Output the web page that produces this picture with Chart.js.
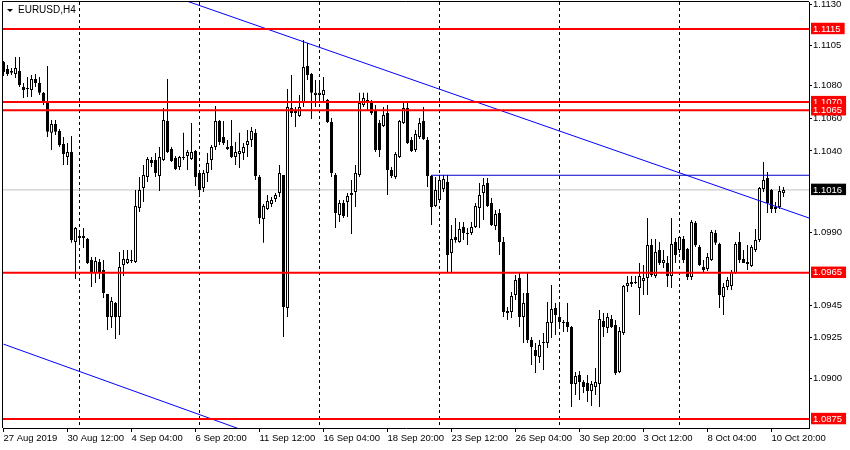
<!DOCTYPE html>
<html><head><meta charset="utf-8">
<script src="https://cdn.jsdelivr.net/npm/chart.js@4/dist/chart.umd.min.js"></script>
<style>html,body{margin:0;padding:0;background:#fff;}canvas{display:block;}</style>
</head><body>
<canvas id="c" width="850" height="450"></canvas>
<script>
const symbolTitle = 'EURUSD,H4';
const xTickLabels = ['27 Aug 2019','30 Aug 12:00','4 Sep 04:00','6 Sep 20:00','11 Sep 12:00','16 Sep 04:00','18 Sep 20:00','23 Sep 12:00','26 Sep 04:00','30 Sep 20:00','3 Oct 12:00','8 Oct 04:00','10 Oct 20:00'];
const xTickStep = 16;
const weekStartBars = [19, 49, 79, 109, 139, 169];

const open = [
1.10947,1.10904,1.10892,1.10873,1.10892,1.10793,1.10781,1.10775,1.10842,1.10818,
1.10757,1.10701,1.10511,1.10565,1.10523,1.10442,1.10362,1.10393,1.09840,1.09876,
1.09864,1.09858,1.09729,1.09649,1.09717,1.09667,1.09519,1.09378,1.09464,1.09378,
1.09698,1.09710,1.09723,1.09717,1.10049,1.10172,1.10239,1.10344,1.10344,1.10245,
1.10344,1.10584,1.10412,1.10356,1.10301,1.10362,1.10368,1.10350,1.10399,1.10264,
1.10172,1.10264,1.10344,1.10424,1.10584,1.10486,1.10424,1.10430,1.10362,1.10381,
1.10387,1.10436,1.10467,1.10511,1.10239,1.09981,1.10043,1.10073,1.10104,1.10141,
1.10251,1.09433,1.10664,1.10646,1.10615,1.10695,1.10922,1.10873,1.10744,1.10744,
1.10744,1.10713,1.10578,1.10251,1.10006,1.10080,1.10086,1.10128,1.10147,1.10251,
1.10682,1.10713,1.10701,1.10652,1.10572,1.10553,1.10633,1.10282,1.10239,1.10362,
1.10572,1.10664,1.10467,1.10405,1.10486,1.10584,1.10467,1.10245,1.10061,1.10098,
1.10165,1.10209,1.09772,1.09870,1.09840,1.09932,1.09895,1.09895,1.09932,1.10049,
1.10141,1.10202,1.10080,1.09938,1.10018,1.09840,1.09415,1.09409,1.09513,1.09618,
1.09378,1.09526,1.09236,1.09175,1.09132,1.09218,1.09218,1.09341,1.09433,1.09378,
1.09347,1.09347,1.09316,1.08966,1.09021,1.08978,1.08972,1.08923,1.08947,1.08966,
1.09353,1.09310,1.09366,1.09329,1.09040,1.09279,1.09569,1.09581,1.09593,1.09556,
1.09599,1.09618,1.09821,1.09630,1.09790,1.09710,1.09710,1.09630,1.09840,1.09790,
1.09858,1.09797,1.09624,1.09956,1.09809,1.09686,1.09673,1.09729,1.09895,1.09827,
1.09501,1.09562,1.09568,1.09649,1.09840,1.09735,1.09717,1.09692,1.09790,1.09852,
1.10165,1.10233,1.10159,1.10055,1.10055,1.10141
];
const high = [
1.10953,1.10928,1.10910,1.10978,1.10978,1.10818,1.10855,1.10867,1.10873,1.10855,
1.10763,1.10922,1.10590,1.10590,1.10535,1.10486,1.10449,1.10492,1.09932,1.09913,
1.09926,1.09864,1.09747,1.09747,1.09735,1.09729,1.09519,1.09501,1.09470,1.09778,
1.09790,1.09790,1.09790,1.10159,1.10239,1.10313,1.10362,1.10362,1.10387,1.10424,
1.10664,1.10842,1.10424,1.10368,1.10368,1.10511,1.10405,1.10572,1.10405,1.10282,
1.10282,1.10387,1.10436,1.10676,1.10590,1.10584,1.10467,1.10590,1.10455,1.10511,
1.10449,1.10529,1.10547,1.10535,1.10251,1.10073,1.10128,1.10116,1.10141,1.10313,
1.10251,1.10781,1.10867,1.10670,1.10744,1.11082,1.11064,1.10879,1.10836,1.10818,
1.10855,1.10719,1.10602,1.10264,1.10098,1.10098,1.10141,1.10221,1.10313,1.10757,
1.10757,1.10757,1.10713,1.10682,1.10590,1.10670,1.10682,1.10301,1.10393,1.10590,
1.10701,1.10701,1.10486,1.10529,1.10602,1.10670,1.10486,1.10251,1.10239,1.10251,
1.10251,1.10251,1.09944,1.09987,1.09963,1.09963,1.09926,1.09963,1.10080,1.10202,
1.10233,1.10233,1.10110,1.10036,1.10043,1.09870,1.09439,1.09532,1.09636,1.09649,
1.09526,1.09649,1.09255,1.09218,1.09236,1.09280,1.09470,1.09575,1.09464,1.09452,
1.09359,1.09464,1.09323,1.09040,1.09046,1.08990,1.09021,1.08984,1.09064,1.09421,
1.09402,1.09402,1.09390,1.09359,1.09316,1.09575,1.09630,1.09630,1.09630,1.09710,
1.09698,1.09987,1.09858,1.09858,1.09840,1.09790,1.09753,1.09987,1.09864,1.09876,
1.09876,1.09803,1.09975,1.09969,1.09821,1.09729,1.09772,1.09913,1.09913,1.09834,
1.09587,1.09624,1.09667,1.09840,1.09901,1.09790,1.09821,1.09821,1.09920,1.10178,
1.10332,1.10270,1.10165,1.10086,1.10184,1.10178
];
const low = [
1.10861,1.10861,1.10867,1.10849,1.10793,1.10726,1.10732,1.10732,1.10793,1.10744,
1.10682,1.10486,1.10405,1.10498,1.10424,1.10313,1.10313,1.09834,1.09611,1.09821,
1.09803,1.09704,1.09562,1.09587,1.09611,1.09495,1.09298,1.09310,1.09242,1.09267,
1.09630,1.09704,1.09710,1.09710,1.10024,1.10086,1.10209,1.10301,1.10239,1.10153,
1.10338,1.10387,1.10332,1.10282,1.10282,1.10344,1.10282,1.10344,1.10184,1.10116,
1.10147,1.10209,1.10282,1.10405,1.10436,1.10436,1.10405,1.10356,1.10313,1.10295,
1.10344,1.10362,1.10424,1.10221,1.09950,1.09834,1.10036,1.10055,1.10086,1.10116,
1.09255,1.09378,1.10609,1.10547,1.10609,1.10670,1.10836,1.10596,1.10670,1.10695,
1.10695,1.10572,1.10239,1.09926,1.09963,1.09987,1.09993,1.09889,1.10055,1.10239,
1.10670,1.10652,1.10621,1.10393,1.10362,1.10547,1.10128,1.10233,1.10227,1.10356,
1.10565,1.10442,1.10393,1.10393,1.10473,1.10467,1.10178,1.09944,1.10055,1.10080,
1.10147,1.09649,1.09649,1.09834,1.09834,1.09852,1.09821,1.09883,1.09926,1.09926,
1.09975,1.10055,1.09938,1.09913,1.09760,1.09378,1.09359,1.09372,1.09482,1.09316,
1.09218,1.09218,1.09083,1.09034,1.09095,1.09052,1.09187,1.09249,1.09267,1.09316,
1.09286,1.09286,1.08824,1.08898,1.08867,1.08910,1.08855,1.08830,1.08898,1.08824,
1.09255,1.09279,1.09310,1.09021,1.09034,1.09267,1.09532,1.09562,1.09581,1.09390,
1.09513,1.09513,1.09624,1.09618,1.09698,1.09680,1.09562,1.09556,1.09710,1.09772,
1.09710,1.09605,1.09605,1.09809,1.09692,1.09649,1.09661,1.09723,1.09821,1.09433,
1.09390,1.09544,1.09544,1.09643,1.09710,1.09710,1.09667,1.09686,1.09778,1.09840,
1.10147,1.10018,1.10018,1.10018,1.10043,1.10116
];
const close = [
1.10886,1.10873,1.10880,1.10910,1.10805,1.10775,1.10787,1.10842,1.10818,1.10757,
1.10701,1.10517,1.10565,1.10517,1.10436,1.10381,1.10393,1.09852,1.09926,1.09864,
1.09876,1.09710,1.09649,1.09723,1.09649,1.09526,1.09378,1.09476,1.09378,1.09686,
1.09735,1.09735,1.09729,1.10061,1.10159,1.10251,1.10350,1.10326,1.10264,1.10362,
1.10590,1.10393,1.10338,1.10288,1.10362,1.10356,1.10393,1.10393,1.10239,1.10159,
1.10264,1.10326,1.10424,1.10584,1.10455,1.10449,1.10412,1.10362,1.10393,1.10399,
1.10424,1.10461,1.10523,1.10245,1.09987,1.10061,1.10092,1.10098,1.10128,1.10264,
1.09439,1.10670,1.10633,1.10633,1.10670,1.10916,1.10867,1.10757,1.10757,1.10757,
1.10775,1.10578,1.10264,1.10018,1.10080,1.09999,1.10122,1.10141,1.10264,1.10695,
1.10726,1.10695,1.10633,1.10405,1.10405,1.10621,1.10282,1.10245,1.10381,1.10584,
1.10664,1.10449,1.10399,1.10504,1.10572,1.10473,1.10245,1.10055,1.10159,1.10221,
1.10227,1.09760,1.09858,1.09852,1.09920,1.09895,1.09889,1.09932,1.10061,1.10128,
1.10190,1.10061,1.09944,1.10012,1.09840,1.09409,1.09402,1.09507,1.09605,1.09378,
1.09464,1.09236,1.09193,1.09138,1.09206,1.09224,1.09347,1.09427,1.09390,1.09347,
1.09341,1.09316,1.08966,1.09015,1.08978,1.08947,1.08923,1.08966,1.08978,1.09366,
1.09316,1.09378,1.09316,1.09034,1.09292,1.09569,1.09587,1.09593,1.09587,1.09630,
1.09618,1.09821,1.09636,1.09778,1.09710,1.09729,1.09630,1.09827,1.09760,1.09870,
1.09729,1.09624,1.09963,1.09821,1.09698,1.09667,1.09747,1.09901,1.09834,1.09513,
1.09562,1.09605,1.09655,1.09827,1.09729,1.09710,1.09704,1.09809,1.09852,1.10172,
1.10221,1.10080,1.10043,1.10043,1.10153,1.10159
];

const priceTicks = [1.1130, 1.1105, 1.1080, 1.1060, 1.1040, 1.0990, 1.0945, 1.0925, 1.0900];
const levelPrices = [1.1115, 1.1070, 1.1065, 1.0965, 1.0875];
const bidPrice = 1.1016;
const resistancePrice = 1.1025;
const resistanceFromBar = 107;
const trendUpper = [[0, 1.11715], [201.375, 1.09987]];
const trendLower = [[0, 1.09211], [60, 1.08680]];
const xMin = -0.125, xMax = 201.375;
const yMin = 1.08695, yMax = 1.11316;

const FONT = 'Liberation Sans';
const allYTicks = priceTicks.concat(levelPrices, [bidPrice]);
const tickKind = i => i < priceTicks.length ? 'n' : (i < priceTicks.length + levelPrices.length ? 'l' : 'b');

const hLine = (v, from) => [{x: from, y: v}, {x: xMax, y: v}];
const lineDs = (data, color, width, order) => ({
  type: 'line', data, borderColor: color, borderWidth: width, pointRadius: 0,
  pointHoverRadius: 0, fill: false, tension: 0, order
});

const datasets = [
  lineDs(hLine(bidPrice, xMin), '#c0c0c0', 1, 6),
  {
    type: 'bar', order: 4, grouped: false, barThickness: 1, inflateAmount: 0,
    borderWidth: 0, backgroundColor: '#000',
    data: low.map((l, i) => ({x: i, y: [l, high[i]]}))
  },
  {
    type: 'bar', order: 3, grouped: false, barThickness: 3, inflateAmount: 0,
    borderWidth: 1, borderSkipped: false, borderColor: '#000', minBarLength: 1,
    backgroundColor: ctx => (close[ctx.dataIndex] >= open[ctx.dataIndex] ? '#fff' : '#000'),
    data: open.map((o, i) => ({x: i, y: [o, close[i]]}))
  },
  lineDs(hLine(resistancePrice, resistanceFromBar), '#0000c8', 1, 2),
  lineDs(trendUpper.map(p => ({x: p[0], y: p[1]})), '#0000ff', 1, 2),
  lineDs(trendLower.map(p => ({x: p[0], y: p[1]})), '#0000ff', 1, 2),
  ...levelPrices.map(v => lineDs(hLine(v, xMin), '#ff0000', 2, 1))
];

const framePlugin = {
  id: 'frame',
  afterDraw(chart) {
    const {ctx, chartArea: a} = chart;
    ctx.save();
    ctx.strokeStyle = '#000';
    ctx.lineWidth = 1;
    ctx.beginPath();
    ctx.moveTo(a.left - 0.5, a.bottom);
    ctx.lineTo(a.left - 0.5, a.top - 0.5);
    ctx.lineTo(a.right, a.top - 0.5);
    ctx.stroke();
    ctx.fillStyle = '#000';
    ctx.beginPath();
    ctx.moveTo(a.left + 4, a.top + 7);
    ctx.lineTo(a.left + 10, a.top + 7);
    ctx.lineTo(a.left + 7, a.top + 10);
    ctx.closePath();
    ctx.fill();
    ctx.font = '10px "' + FONT + '"';
    ctx.textBaseline = 'middle';
    ctx.textAlign = 'left';
    ctx.fillText(symbolTitle, a.left + 15, a.top + 8.5);
    ctx.restore();
  }
};

new Chart(document.getElementById('c'), {
  type: 'bar',
  data: {datasets},
  plugins: [framePlugin],
  options: {
    responsive: false,
    devicePixelRatio: 1,
    animation: false,
    events: [],
    layout: {padding: {left: 3, top: 2, right: 0, bottom: 0}},
    plugins: {legend: {display: false}, tooltip: {enabled: false}, title: {display: false}},
    scales: {
      x: {
        type: 'linear', position: 'bottom', min: xMin, max: xMax, offset: false, weight: 1,
        afterBuildTicks: s => { s.ticks = xTickLabels.map((_, k) => ({value: k * xTickStep})); },
        afterFit: s => { s.height = 22; s.paddingLeft = 0; s.paddingRight = 0; },
        ticks: {
          autoSkip: false, maxRotation: 0, minRotation: 0, align: 'start', padding: 1,
          color: '#000', font: {family: FONT, size: 9.5, lineHeight: 1.2},
          callback: (v, idx) => xTickLabels[idx]
        },
        grid: {offset: false, drawOnChartArea: false, drawTicks: true, tickLength: 4, color: '#000'},
        border: {display: true, color: '#000', width: 1}
      },
      xg: {
        type: 'linear', position: 'bottom', min: xMin, max: xMax, offset: false, weight: 0,
        afterBuildTicks: s => { s.ticks = weekStartBars.map(v => ({value: v})); },
        afterFit: s => { s.height = 0; s.paddingLeft = 0; s.paddingRight = 0; },
        ticks: {display: false},
        grid: {offset: false, drawOnChartArea: true, drawTicks: false, color: '#000', lineWidth: 1},
        border: {display: false, dash: [3, 3]}
      },
      y: {
        type: 'linear', position: 'right', min: yMin, max: yMax,
        afterBuildTicks: s => { s.ticks = allYTicks.map(v => ({value: v})); },
        afterFit: s => { s.width = 41; s.paddingTop = 0; s.paddingBottom = 0; },
        ticks: {
          autoSkip: false, padding: 1,
          font: {family: FONT, size: 9.5, lineHeight: 1.1},
          color: ctx => tickKind(ctx.index) === 'n' ? '#000' : '#fff',
          showLabelBackdrop: ctx => tickKind(ctx.index) !== 'n',
          backdropColor: ctx => tickKind(ctx.index) === 'l' ? '#ff0000' : '#000',
          backdropPadding: {left: 2, right: 4, top: 1, bottom: 0},
          callback: v => v.toFixed(4)
        },
        grid: {
          drawOnChartArea: false, drawTicks: true, tickLength: 3, color: '#000',
          tickColor: ctx => tickKind(ctx.index) === 'n' ? '#000' : 'rgba(0,0,0,0)'
        },
        border: {display: true, color: '#000', width: 1}
      }
    }
  }
});
</script>
</body></html>
